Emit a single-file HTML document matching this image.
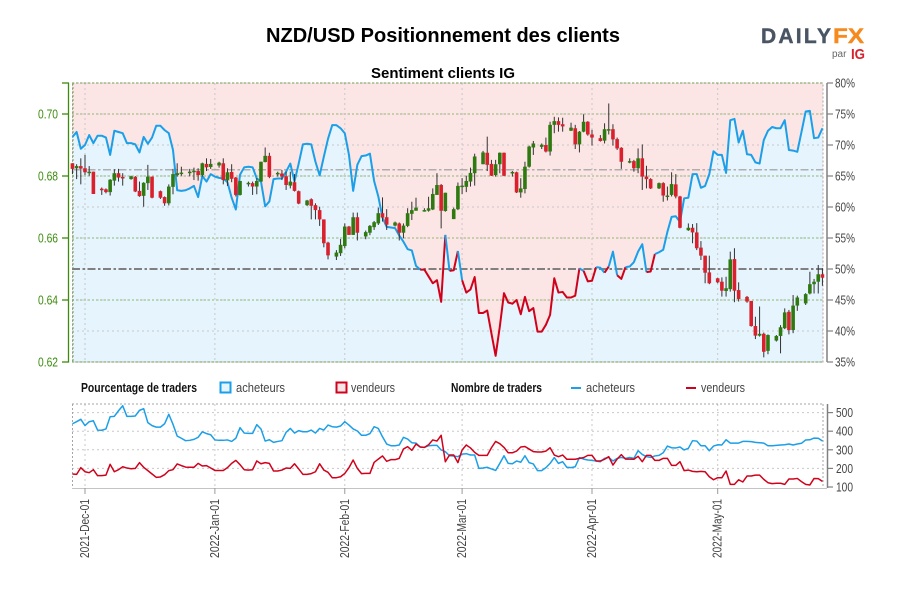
<!DOCTYPE html>
<html lang="fr">
<head>
<meta charset="utf-8">
<title>NZD/USD Positionnement des clients</title>
<style>
html,body{margin:0;padding:0;background:#fff;width:900px;height:600px;overflow:hidden}
svg{display:block}
.narrow{font-family:"Liberation Sans Narrow","Liberation Sans",sans-serif;font-size:13px;fill:#444}
.narrowb{font-family:"Liberation Sans Narrow","Liberation Sans",sans-serif;font-size:13px;font-weight:bold;fill:#111}
</style>
</head>
<body>
<svg id="chart" xmlns="http://www.w3.org/2000/svg" width="900" height="600" viewBox="0 0 900 600">
  <text x="443" y="42" text-anchor="middle" font-family="'Liberation Sans',sans-serif" font-size="20" font-weight="bold" fill="#000" textLength="354" lengthAdjust="spacingAndGlyphs">NZD/USD Positionnement des clients</text>
  <text x="443" y="78" text-anchor="middle" font-family="'Liberation Sans',sans-serif" font-size="15" font-weight="bold" fill="#000" textLength="144" lengthAdjust="spacingAndGlyphs">Sentiment clients IG</text>

  <g>
    <text x="761" y="43" font-family="'Liberation Sans',sans-serif" font-size="21" font-weight="bold" fill="#4a5563" stroke="#4a5563" stroke-width="0.4" textLength="70">DAILY</text>
    <text x="833" y="43" font-family="'Liberation Sans',sans-serif" font-size="21" font-weight="bold" fill="#f58a1f" stroke="#f58a1f" stroke-width="0.4" textLength="31" lengthAdjust="spacingAndGlyphs">FX</text>
    <text x="832" y="57" font-family="'Liberation Sans',sans-serif" font-size="10" fill="#666">par</text>
    <text x="851" y="59" font-family="'Liberation Sans',sans-serif" font-size="15" font-weight="bold" fill="#d9202c" textLength="14" lengthAdjust="spacingAndGlyphs">IG</text>
  </g>

  <g id="price-panel"></g>
  <g id="count-panel"></g>

  <g>
    <text class="narrowb" x="81" y="392" textLength="116" lengthAdjust="spacingAndGlyphs">Pourcentage de traders</text>
    <rect x="220.5" y="382.5" width="10" height="10" fill="#e6f4fd" stroke="#1b9fe8" stroke-width="2"/>
    <text class="narrow" x="236" y="392" textLength="49" lengthAdjust="spacingAndGlyphs">acheteurs</text>
    <rect x="336.5" y="382.5" width="10" height="10" fill="#f6e6e8" stroke="#d0021b" stroke-width="2"/>
    <text class="narrow" x="351" y="392" textLength="44" lengthAdjust="spacingAndGlyphs">vendeurs</text>
    <text class="narrowb" x="451" y="392" textLength="91" lengthAdjust="spacingAndGlyphs">Nombre de traders</text>
    <line x1="571" y1="388" x2="581" y2="388" stroke="#1b9fe8" stroke-width="2"/>
    <text class="narrow" x="586" y="392" textLength="49" lengthAdjust="spacingAndGlyphs">acheteurs</text>
    <line x1="686" y1="388" x2="696" y2="388" stroke="#d0021b" stroke-width="2"/>
    <text class="narrow" x="701" y="392" textLength="44" lengthAdjust="spacingAndGlyphs">vendeurs</text>
  </g>
</svg>

<script>
// Prices are in thousandths of USD (684.1 = 0.6841). Days are counted from 2021-12-01.
const priceTicks = [620, 640, 660, 680, 700];
const priceTickLabels = ['0.62', '0.64', '0.66', '0.68', '0.70'];
const percentTicks = [35, 40, 45, 50, 55, 60, 65, 70, 75, 80];
const percentTickLabels = ['35%', '40%', '45%', '50%', '55%', '60%', '65%', '70%', '75%', '80%'];
const countTicks = [100, 200, 300, 400, 500];
const countTickLabels = ['100', '200', '300', '400', '500'];
const dateTickDays = [0, 31, 62, 90, 121, 151];
const dateTickLabels = ['2021-Dec-01', '2022-Jan-01', '2022-Feb-01', '2022-Mar-01', '2022-Apr-01', '2022-May-01'];
const neutralPercent = 50;
const referencePercent = 66;
const firstSeriesDay = -3;

const candleDays = [
-3,-2,-1,0,1,2, 4,5,6,7,8,9, 11,12,13,14,15,16, 18,19,20,21,22,23, 25,26,27,28,29,30,
32,33,34,35,36,37, 39,40,41,42,43,44, 46,47,48,49,50,51, 53,54,55,56,57,58, 60,61,62,63,64,65,
67,68,69,70,71,72, 74,75,76,77,78,79, 81,82,83,84,85,86, 88,89,90,91,92,93, 95,96,97,98,99,100,
102,103,104,105,106,107, 109,110,111,112,113,114, 116,117,118,119,120,121, 123,124,125,126,127,128,
130,131,132,133,134,135, 137,138,139,140,141,142, 144,145,146,147,148,149, 151,152,153,154,155,156,
158,159,160,161,162,163, 165,166,167,168,169,170, 172,173,174,175,176];

const open = [
684.1,682.5,683.2,682.5,681.2,681.4, 675.9,675.7,674.8,678.5,680.9,679.7,
679.0,679.7,675.2,673.6,677.7,679.8, 675.1,673.2,671.2,676.5,680.3,680.8,
681.2,681.4,681.6,680.3,683.9,682.9, 683.4,684.1,678.6,681.3,679.5,673.9,
677.7,677.7,676.6,678.2,684.5,686.5, 680.8,680.8,679.9,676.9,678.0,675.1,
670.6,672.5,670.6,669.0,666.0,658.5, 654.0,655.1,657.4,663.7,661.0,666.7,
660.5,661.7,663.5,664.7,668.0,666.7, 664.0,664.7,661.7,663.9,667.8,668.8,
668.8,668.8,669.2,673.9,677.1,668.7, 666.1,669.3,676.5,676.5,678.2,680.9,
683.8,687.5,683.9,680.3,683.8,687.5, 681.0,681.2,674.7,675.8,683.0,689.2,
689.4,690.0,687.9,696.5,697.7,696.7, 694.6,695.4,690.2,694.3,697.5,693.4,
692.2,691.4,694.8,695.1,691.9,689.1, 684.5,684.8,682.5,685.7,679.8,679.0,
676.0,677.7,673.6,673.9,677.3,673.4, 662.5,663.3,661.8,656.9,654.3,648.9,
647.0,645.9,642.9,643.5,653.2,643.2, 641.0,639.7,631.6,628.5,629.1,623.6,
626.9,628.4,630.9,636.2,630.3,638.2, 638.9,642.1,645.1,645.9,648.3];

const high = [
684.1,683.8,685.7,686.8,683.2,681.4, 676.3,676.0,679.0,682.2,682.3,680.9,
680.1,680.0,678.2,678.0,683.6,679.8, 675.3,673.4,677.3,682.3,684.1,683.0,
682.3,682.7,682.5,684.3,685.7,685.5, 684.6,685.7,682.5,683.8,679.7,678.4,
678.2,678.2,679.3,684.6,689.2,687.5, 681.4,681.9,681.4,681.4,680.6,675.3,
672.3,672.8,671.2,670.1,666.0,658.8, 656.1,659.7,664.7,663.9,668.2,668.2,
662.4,664.2,665.5,669.8,673.1,669.3, 665.3,665.0,664.7,669.6,671.7,673.0,
669.6,673.3,676.0,680.9,677.4,674.6, 669.8,677.9,679.3,680.1,682.7,687.2,
688.1,692.7,685.2,685.2,687.6,687.6, 681.6,681.4,679.3,684.6,689.8,691.3,
690.5,692.4,697.5,699.1,698.9,698.8, 697.2,696.5,694.5,699.9,697.7,694.9,
693.2,697.0,703.4,696.7,692.4,689.3, 685.7,685.2,688.9,690.2,683.3,679.3,
677.9,678.0,676.6,681.2,680.6,673.6, 664.7,664.5,664.8,659.0,654.3,654.3,
647.2,647.3,647.5,655.6,656.7,645.7, 641.3,639.7,634.6,637.9,629.5,628.9,
628.7,631.9,637.3,636.8,641.6,641.4, 642.2,649.1,646.8,651.3,650.2];

const low = [
680.6,679.0,677.3,680.3,680.1,674.2, 673.9,674.4,673.7,676.9,678.2,676.9,
678.8,674.8,673.3,670.1,675.5,672.8, 672.6,670.4,670.5,674.1,679.8,680.1,
679.9,678.7,678.5,679.8,681.6,682.3, 682.7,677.3,676.8,678.0,673.4,673.7,
676.6,673.9,674.1,678.2,684.4,679.3, 679.8,678.7,675.5,676.0,675.0,670.9,
670.3,666.0,666.0,663.9,657.0,653.1, 652.9,654.2,656.7,661.0,661.0,659.2,
659.6,660.9,662.6,664.2,665.3,662.6, 663.7,659.2,659.9,663.5,665.8,668.8,
668.5,668.5,669.0,673.9,663.1,668.5, 666.1,669.0,674.2,674.8,676.6,676.9,
683.8,681.6,680.0,679.8,680.9,680.0, 679.8,674.5,673.0,674.4,682.7,686.8,
688.7,687.6,686.6,693.8,694.3,694.3, 694.5,688.7,687.6,694.1,693.0,689.8,
691.1,690.5,693.4,689.8,688.4,682.3, 684.1,681.4,680.9,675.5,676.0,675.8,
675.8,671.7,672.1,673.4,672.8,663.1, 662.3,658.3,656.1,652.9,645.4,645.1,
645.4,641.1,641.1,642.7,639.3,639.5, 639.1,631.4,627.4,628.2,621.5,622.5,
626.6,622.8,630.6,628.9,629.3,636.5, 638.4,641.8,642.1,642.1,644.6];

const close = [
682.3,683.2,682.4,681.2,681.4,674.2, 675.7,674.8,678.8,680.9,679.5,679.2,
679.9,675.0,673.5,677.8,679.8,673.0, 673.0,671.2,676.6,680.6,680.9,681.1,
681.4,681.7,680.3,684.1,682.8,683.9, 684.3,678.7,681.2,679.1,673.9,678.4,
677.8,676.6,678.4,684.6,686.5,679.7, 681.0,679.8,677.1,678.2,675.2,671.1,
672.1,670.4,669.0,666.0,658.3,654.4, 655.3,657.8,663.7,661.0,666.7,661.7,
661.9,663.9,665.1,668.0,666.6,664.3, 665.0,661.7,664.0,668.0,669.0,669.8,
669.0,669.6,674.2,677.1,668.8,674.6, 669.3,676.8,676.9,678.4,681.0,686.3,
687.6,683.6,680.1,683.8,687.5,680.1, 681.3,674.7,676.0,683.0,689.5,690.5,
690.1,687.9,696.5,697.7,696.5,696.0, 695.6,690.2,694.3,697.5,693.4,692.4,
691.3,695.1,695.1,691.8,688.9,684.6, 684.8,682.5,685.7,679.8,679.0,676.0,
677.7,673.7,673.7,677.4,673.4,663.3, 663.3,661.8,656.7,654.3,648.8,645.4,
645.7,643.0,643.8,653.1,643.0,640.3, 639.5,631.6,628.5,629.1,623.3,628.7,
628.4,631.2,636.0,630.3,638.2,640.8, 641.9,645.1,645.9,648.3,647.2];

const buyersPercent = [
71.3,72.1,69.4,70.0,71.6,70.3,71.5,71.5,71.2,68.4,
72.3,72.1,71.9,70.3,70.3,70.1,68.8,71.3,70.2,71.2,
73.1,73.1,72.4,71.9,69.2,62.7,62.6,62.7,63.0,63.4,
61.6,65.0,64.1,65.3,64.9,64.7,64.6,64.0,61.5,59.6,
65.2,66.4,66.5,66.4,64.6,64.1,60.1,60.9,64.5,64.6,
64.6,65.7,67.0,64.1,67.0,70.1,70.2,70.1,67.3,65.1,
68.1,71.0,73.2,73.2,72.7,71.9,68.4,62.6,66.8,68.2,
68.3,68.6,64.2,61.7,58.3,56.8,56.7,56.6,55.4,54.4,
53.2,53.0,50.5,49.9,49.9,48.8,47.7,48.2,44.7,55.5,
49.7,49.8,52.9,48.2,46.2,46.7,48.7,42.9,42.9,43.3,
39.6,36.0,40.7,46.1,44.6,44.4,45.0,42.7,45.5,43.2,
43.7,39.9,39.9,41.0,42.6,48.5,46.2,46.3,45.4,45.4,
45.7,50.1,49.7,48.0,48.1,50.3,50.2,49.4,50.4,52.8,
49.0,48.4,50.3,50.4,51.1,52.8,54.0,49.5,49.6,52.4,
52.7,53.1,56.0,58.4,58.5,57.6,61.4,61.5,65.3,65.3,
63.1,63.4,65.3,69.0,68.4,68.4,65.5,74.0,74.2,70.4,
72.3,68.5,68.4,67.2,67.0,70.8,72.3,72.9,72.7,72.7,
74.0,69.2,69.1,68.9,72.1,75.4,75.5,71.1,71.2,72.7];

const buyersCount = [
440,451,464,430,451,456,406,405,412,478,
480,510,537,480,480,482,512,521,446,430,
422,422,440,491,437,374,362,349,351,356,
367,397,387,381,353,351,351,353,345,362,
419,390,388,388,435,412,347,354,340,345,
349,394,415,390,403,397,397,406,390,415,
406,433,424,422,428,451,433,412,401,378,
378,387,424,415,370,331,322,322,326,367,
358,338,336,315,313,322,324,324,299,290,
268,267,263,
277,279,272,272,200,202,206,197,189,227,
268,227,225,240,233,268,231,224,188,188,
204,227,258,227,236,206,204,209,258,250,
245,243,240,236,254,259,240,254,259,254,
259,254,295,275,263,259,267,270,284,320,
311,310,315,299,308,349,347,322,322,295,
320,327,326,354,336,336,336,345,345,344,
340,338,336,322,322,324,326,327,331,326,
331,335,353,354,363,362,347];

const sellersCount = [
170,168,204,182,177,193,161,161,164,222,
182,193,209,202,198,200,231,206,188,170,
152,154,166,188,193,224,215,207,206,206,
227,213,215,202,189,189,189,204,227,243,
220,193,191,193,240,225,231,227,186,186,
191,202,200,225,197,168,168,172,182,225,
191,179,150,150,155,173,204,245,200,172,
173,173,232,250,267,238,247,247,254,304,
317,297,331,315,313,327,353,347,378,236,
272,272,231,
299,326,310,286,270,270,270,311,345,333,
313,284,284,293,315,318,304,290,288,288,
293,311,272,263,272,249,249,249,254,258,
270,270,240,240,249,263,218,250,274,250,
250,249,265,236,270,270,243,243,254,254,
216,216,236,188,191,184,182,184,182,155,
139,150,150,186,114,114,139,127,159,159,
164,164,141,123,118,120,120,114,143,143,
146,129,114,111,146,145,130];

const NS = 'http://www.w3.org/2000/svg';
const PLOT = { left: 72, right: 823, top: 83, bottom: 362 };
const LOWER = { top: 404, bottom: 488 };
const COLORS = { buyer: '#1b9fe8', seller: '#d0021b', pink: '#fce5e5', sky: '#e6f4fd', up: '#2e7a10', down: '#d9202c', wick: '#333', axisGreen: '#3d8c0e', axisGray: '#808080' };

const xScale = day => 85 + day * 4.19;
const priceY = price => 362 - (price - 620) * 3.1;
const percentY = pct => 362 - (pct - 35) * 6.2;
const countY = value => 487 - (value - 100) * 0.186;
const seriesX = i => xScale(firstSeriesDay + i);

function add(parent, tag, attrs, text) {
  const el = document.createElementNS(NS, tag);
  for (const key in attrs) el.setAttribute(key, attrs[key]);
  if (text !== undefined) el.textContent = text;
  parent.appendChild(el);
  return el;
}

function linePath(values, yFn, from, to) {
  let d = '';
  for (let i = from; i <= to; i++) {
    d += (i === from ? 'M' : 'L') + seriesX(i).toFixed(2) + ' ' + yFn(values[i]).toFixed(2);
  }
  return d;
}

const panel = document.getElementById('price-panel');
const lower = document.getElementById('count-panel');

// ----- price panel background -----
const pinkZone = add(panel, 'rect', { x: PLOT.left, y: PLOT.top, width: PLOT.right - PLOT.left, height: PLOT.bottom - PLOT.top, fill: COLORS.pink });



let areaPath = 'M' + seriesX(0).toFixed(2) + ' ' + PLOT.bottom;
buyersPercent.forEach((v, i) => { areaPath += 'L' + seriesX(i).toFixed(2) + ' ' + percentY(v).toFixed(2); });
areaPath += 'L' + seriesX(buyersPercent.length - 1).toFixed(2) + ' ' + PLOT.bottom + 'Z';
const skyZone = add(panel, 'path', { d: areaPath, fill: COLORS.sky });



// ----- grid -----
percentTicks.forEach(t => {
  if (t === neutralPercent) return;
  const g = add(panel, 'line', { x1: PLOT.left, x2: PLOT.right, y1: percentY(t), y2: percentY(t), stroke: '#c8c8c8', 'stroke-width': 1, 'stroke-dasharray': '2 3' });
  
  
});
priceTicks.forEach(t => {
  const g = add(panel, 'line', { x1: PLOT.left, x2: PLOT.right, y1: priceY(t), y2: priceY(t), stroke: '#8fb874', 'stroke-width': 1, 'stroke-dasharray': '2 2' });
  
  
});
dateTickDays.forEach(day => {
  const g = add(panel, 'line', { x1: xScale(day), x2: xScale(day), y1: PLOT.top, y2: PLOT.bottom, stroke: '#c8c8c8', 'stroke-width': 1, 'stroke-dasharray': '2 3' });
  
  
});

const frame = add(panel, 'rect', { x: PLOT.left + 0.5, y: PLOT.top, width: PLOT.right - PLOT.left - 0.5, height: PLOT.bottom - PLOT.top, fill: 'none', stroke: '#a8a8a8', 'stroke-width': 1, 'stroke-dasharray': '2 2' });


[PLOT.top, PLOT.bottom].forEach(y => {
  const edge = add(panel, 'line', { x1: PLOT.left, x2: PLOT.right, y1: y, y2: y, stroke: '#6f9e50', 'stroke-width': 1, 'stroke-dasharray': '2 2' });
  
  
});
const leftEdge = add(panel, 'line', { x1: PLOT.left + 1, x2: PLOT.left + 1, y1: PLOT.top, y2: PLOT.bottom, stroke: '#6f9e50', 'stroke-width': 1, 'stroke-dasharray': '2 2' });



const neutralLine = add(panel, 'line', { x1: PLOT.left, x2: PLOT.right, y1: percentY(neutralPercent), y2: percentY(neutralPercent), stroke: '#808080', 'stroke-width': 2, 'stroke-dasharray': '8 2.5 2.5 2.5' });


const refLine = add(panel, 'line', { x1: PLOT.left, x2: PLOT.right, y1: percentY(referencePercent), y2: percentY(referencePercent), stroke: '#9a9a9a', 'stroke-width': 1.2, 'stroke-dasharray': '8 2.5 2.5 2.5' });



// ----- sentiment line (each segment takes its colour from its starting value) -----
let runStart = 0;
for (let i = 1; i < buyersPercent.length; i++) {
  const isLast = i === buyersPercent.length - 1;
  const sameSide = !isLast && (buyersPercent[i] > neutralPercent) === (buyersPercent[runStart] > neutralPercent);
  if (!sameSide) {
    const run = add(panel, 'path', {
      d: linePath(buyersPercent, percentY, runStart, i),
      fill: 'none',
      stroke: buyersPercent[runStart] > neutralPercent ? COLORS.buyer : COLORS.seller,
      'stroke-width': 2,
      'stroke-linejoin': 'round',
      'stroke-linecap': 'butt'
    });
    
    
    runStart = i;
  }
}

// ----- candlesticks -----
candleDays.forEach((day, i) => {
  const cx = xScale(day);
  const wick = add(panel, 'line', { x1: cx, x2: cx, y1: priceY(high[i]), y2: priceY(low[i]), stroke: COLORS.wick, 'stroke-width': 1 });
  
  
  const top = priceY(Math.max(open[i], close[i]));
  const bottom = priceY(Math.min(open[i], close[i]));
  const body = add(panel, 'rect', { x: cx - 1.8, y: top, width: 3.6, height: Math.max(bottom - top, 1.5), fill: close[i] >= open[i] ? COLORS.up : COLORS.down });
  
  
});

// ----- left price axis -----
const priceAxis = add(panel, 'line', { x1: 68.5, x2: 68.5, y1: PLOT.top, y2: PLOT.bottom + 0.5, stroke: COLORS.axisGreen, 'stroke-width': 1.3 });


const priceAxisCap = add(panel, 'line', { x1: 62, x2: 69, y1: PLOT.top, y2: PLOT.top, stroke: COLORS.axisGreen, 'stroke-width': 1.3 });


priceTicks.forEach((t, i) => {
  const tick = add(panel, 'line', { x1: 62, x2: 69, y1: priceY(t), y2: priceY(t), stroke: COLORS.axisGreen, 'stroke-width': 1.3 });
  
  
  const label = add(panel, 'text', { x: 58, y: priceY(t) + 4.5, 'text-anchor': 'end', class: 'narrow', style: 'fill:' + COLORS.axisGreen, textLength: 20, lengthAdjust: 'spacingAndGlyphs' }, priceTickLabels[i]);
  
  
});

// ----- right percent axis -----
const percentAxis = add(panel, 'line', { x1: 827, x2: 827, y1: percentY(80), y2: percentY(35), stroke: COLORS.axisGray, 'stroke-width': 1.5 });


percentTicks.forEach((t, i) => {
  const tick = add(panel, 'line', { x1: 827, x2: 833, y1: percentY(t), y2: percentY(t), stroke: COLORS.axisGray, 'stroke-width': 1.2 });
  
  
  const label = add(panel, 'text', { x: 835, y: percentY(t) + 4.5, class: 'narrow', textLength: 20, lengthAdjust: 'spacingAndGlyphs' }, percentTickLabels[i]);
  
  
});

// ----- lower panel -----
countTicks.slice(1).forEach(t => {
  const g = add(lower, 'line', { x1: PLOT.left, x2: PLOT.right, y1: countY(t), y2: countY(t), stroke: '#c8c8c8', 'stroke-width': 1, 'stroke-dasharray': '2 3' });
  
  
});
dateTickDays.forEach(day => {
  const g = add(lower, 'line', { x1: xScale(day), x2: xScale(day), y1: LOWER.top, y2: LOWER.bottom, stroke: '#c8c8c8', 'stroke-width': 1, 'stroke-dasharray': '2 3' });
  
  
});
const lowerTop = add(lower, 'line', { x1: PLOT.left, x2: PLOT.right, y1: LOWER.top, y2: LOWER.top, stroke: '#a5a5a5', 'stroke-width': 1, 'stroke-dasharray': '2 2' });


[PLOT.left + 0.5, PLOT.right].forEach(x => {
  const side = add(lower, 'line', { x1: x, x2: x, y1: LOWER.top, y2: LOWER.bottom, stroke: '#a5a5a5', 'stroke-width': 1, 'stroke-dasharray': '2 2' });
  
  
});
const lowerBase = add(lower, 'line', { x1: PLOT.left, x2: PLOT.right + 4, y1: LOWER.bottom + 0.5, y2: LOWER.bottom + 0.5, stroke: '#c4c4c4', 'stroke-width': 1 });



const buyersLine = add(lower, 'path', { d: linePath(buyersCount, countY, 0, buyersCount.length - 1), fill: 'none', stroke: COLORS.buyer, 'stroke-width': 1.5, 'stroke-linejoin': 'round' });


const sellersLine = add(lower, 'path', { d: linePath(sellersCount, countY, 0, sellersCount.length - 1), fill: 'none', stroke: COLORS.seller, 'stroke-width': 1.5, 'stroke-linejoin': 'round' });



dateTickDays.forEach((day, i) => {
  const x = xScale(day);
  const tick = add(lower, 'line', { x1: x, x2: x, y1: LOWER.bottom, y2: 494, stroke: '#9a9a9a', 'stroke-width': 1 });
  
  
  const label = add(lower, 'text', { x: 0, y: 0, transform: 'translate(' + (x + 4) + ',558) rotate(-90)', class: 'narrow', textLength: 59, lengthAdjust: 'spacingAndGlyphs' }, dateTickLabels[i]);
  
  
});

const countAxis = add(lower, 'line', { x1: 827.5, x2: 827.5, y1: LOWER.top, y2: LOWER.bottom, stroke: COLORS.axisGray, 'stroke-width': 1.5 });


countTicks.forEach((t, i) => {
  const tick = add(lower, 'line', { x1: 827, x2: 833, y1: countY(t), y2: countY(t), stroke: COLORS.axisGray, 'stroke-width': 1.2 });
  
  
  const label = add(lower, 'text', { x: 836, y: countY(t) + 4.5, class: 'narrow', textLength: 17, lengthAdjust: 'spacingAndGlyphs' }, countTickLabels[i]);
  
  
});
</script>
</body>
</html>
